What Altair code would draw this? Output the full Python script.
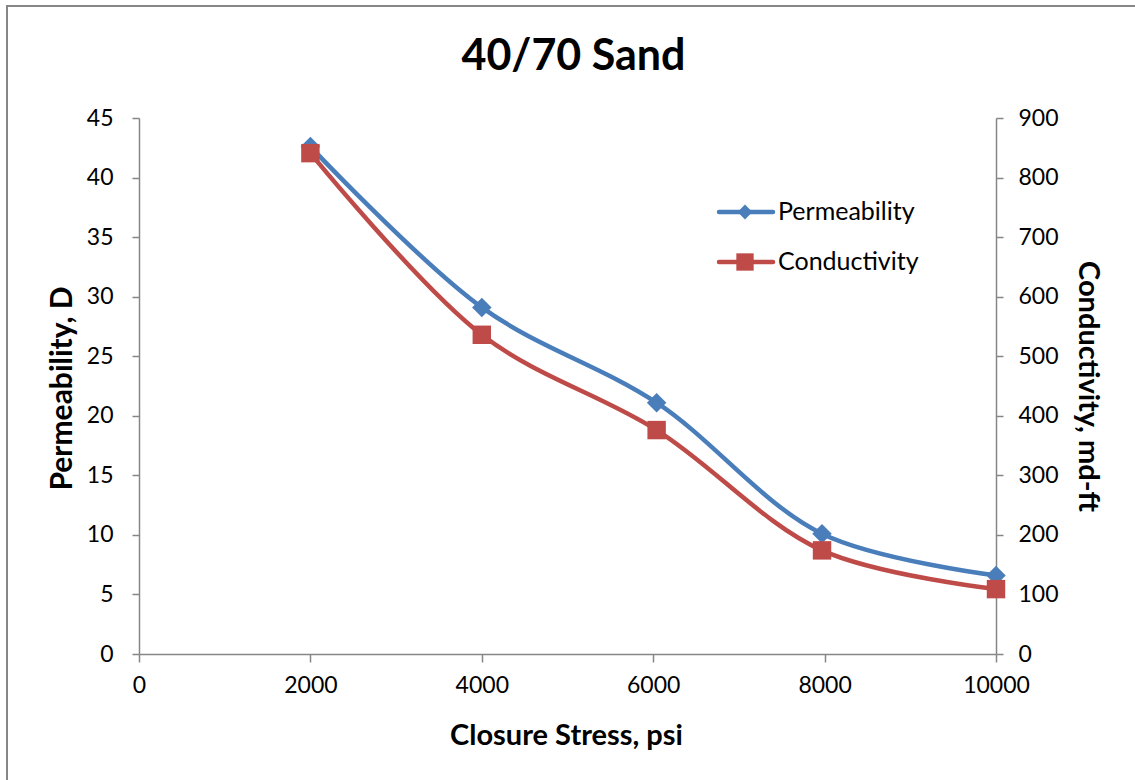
import altair as alt
import pandas as pd

stress = [2000, 4000, 6040, 7970, 10000]
permeability = [42.6, 29.1, 21.1, 10.1, 6.6]
conductivity = [841, 536, 376, 174, 109]
series = ["Permeability", "Conductivity"]

BLUE = "#4A7EBB"
RED = "#BE4B48"
GRAY = "#868686"
FONT = "Lato"

df = pd.DataFrame({"stress": stress, "perm": permeability, "cond": conductivity})

W, H = 857, 536

x = alt.X("stress:Q", scale=alt.Scale(domain=[0, 10000], nice=False),
          axis=alt.Axis(values=[0, 2000, 4000, 6000, 8000, 10000], format="d", labelFlush=False,
                        title="Closure Stress, psi",
                        grid=False, domainColor=GRAY, tickColor=GRAY, domainWidth=1.5, tickWidth=1.5,
                        tickSize=8, labelPadding=12, labelFontSize=23, labelFont=FONT, labelColor="black",
                        titleFont=FONT, titleFontSize=29, titleFontWeight="bold", titleColor="black",
                        titleX=427, titleY=81, titleBaseline="middle", titleAlign="center"))

base = alt.Chart(df)

perm_line = base.mark_line(color=BLUE, strokeWidth=4.5, interpolate="catmull-rom").encode(
    x=x,
    y=alt.Y("perm:Q", scale=alt.Scale(domain=[0, 45], nice=False),
            axis=alt.Axis(orient="left", values=list(range(0, 50, 5)), title="Permeability, D",
                          grid=False, domainColor=GRAY, tickColor=GRAY, domainWidth=1.5, tickWidth=1.5,
                          tickSize=7, labelPadding=19, labelFontSize=23, labelFont=FONT, labelColor="black",
                          titleFont=FONT, titleFontSize=30, titleFontWeight="bold", titleColor="black",
                          titleX=-77, titleY=270, titleBaseline="middle", titleAlign="center", titleAngle=270)),
)
perm_pts = base.mark_point(shape="diamond", filled=True, size=380, color=BLUE, opacity=1).encode(
    x="stress:Q", y=alt.Y("perm:Q", scale=alt.Scale(domain=[0, 45], nice=False)))

cond_line = base.mark_line(color=RED, strokeWidth=4.5, interpolate="catmull-rom").encode(
    x="stress:Q",
    y=alt.Y("cond:Q", scale=alt.Scale(domain=[0, 900], nice=False),
            axis=alt.Axis(orient="right", values=list(range(0, 1000, 100)), title="Conductivity, md-ft",
                          grid=False, domainColor=GRAY, tickColor=GRAY, domainWidth=1.5, tickWidth=1.5,
                          tickSize=7, labelPadding=15, labelFontSize=23, labelFont=FONT, labelColor="black",
                          titleFont=FONT, titleFontSize=29, titleFontWeight="bold", titleColor="black",
                          titleX=91, titleY=268, titleBaseline="middle", titleAlign="center", titleAngle=90)),
)
cond_pts = base.mark_square(size=340, color=RED, opacity=1).encode(
    x="stress:Q", y=alt.Y("cond:Q", scale=alt.Scale(domain=[0, 900], nice=False)))

perm_layer = alt.layer(perm_line, perm_pts)
cond_layer = alt.layer(cond_line, cond_pts)

# manual legend
leg = alt.Chart(pd.DataFrame({"name": series}))
def legend_row(name, color, shape, size, ypix):
    d = leg.transform_filter(alt.datum.name == name)
    line = d.mark_rule(color=color, strokeWidth=4.5, strokeCap="round").encode(
        x=alt.value(580), x2=alt.value(634), y=alt.value(ypix))
    pt = d.mark_point(shape=shape, filled=True, size=size, color=color, opacity=1).encode(
        x=alt.value(606), y=alt.value(ypix))
    txt = d.mark_text(align="left", baseline="middle", font=FONT, fontSize=25, color="black").encode(
        x=alt.value(639), y=alt.value(ypix), text="name:N")
    return alt.layer(line, pt, txt)

legend = alt.layer(legend_row(series[0], BLUE, "diamond", 220, 94),
                   legend_row(series[1], RED, "square", 300, 144))

frame = alt.Chart(pd.DataFrame({"a": [0]})).mark_rect(fill=None, stroke=GRAY, strokeWidth=2).encode(
    x=alt.value(-132), x2=alt.value(1010), y=alt.value(-112), y2=alt.value(680))

chart = alt.layer(frame, perm_layer, cond_layer, legend).resolve_scale(y="independent").properties(
    width=W, height=H,
    title=alt.TitleParams("40/70 Sand", font=FONT, fontSize=43, fontWeight="bold", color="black",
                          anchor="middle", frame="group", baseline="alphabetic", offset=0, dy=108, dx=6),
    autosize=alt.AutoSizeParams(type="none"),
    padding={"left": 139, "top": 118, "right": 139, "bottom": 126},
    background="white",
).configure_view(stroke=None)

chart.save("out.html", embed_options={"renderer": "svg", "actions": False})
